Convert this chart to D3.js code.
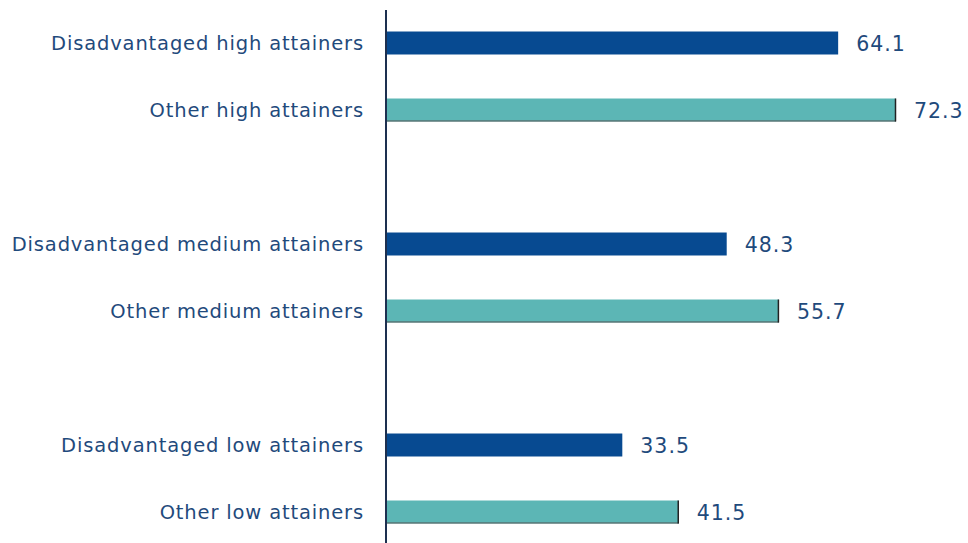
<!DOCTYPE html>
<html><head><meta charset="utf-8">
<script src="https://cdn.jsdelivr.net/npm/d3@7"></script>
<style>body{margin:0;background:#fff;} text{font-family:"DejaVu Sans",sans-serif;}</style>
</head><body><svg id="c" width="968" height="543"></svg>
<script>
const categories = ["Disadvantaged high attainers","Other high attainers","","Disadvantaged medium attainers","Other medium attainers","","Disadvantaged low attainers","Other low attainers"];
const values = [64.1,72.3,null,48.3,55.7,null,33.5,41.5];
const groupType = ["dis","oth",null,"dis","oth",null,"dis","oth"];
const colors = {dis:"#074a91", oth:"#5cb6b5"};
const textColor = "#1f4a7c";

const svg = d3.select("#c");
const x = d3.scaleLinear().domain([0,72.3]).range([386,896]);
const y = d3.scaleBand().domain(d3.range(categories.length)).range([9.5,545.5]).paddingInner(0.657).paddingOuter(0.3285);

const data = categories.map((c,i)=>({c, v:values[i], t:groupType[i], i})).filter(d=>d.v!==null);

svg.selectAll("rect.bar").data(data).join("rect").attr("class","bar")
  .attr("x", x(0)).attr("y", d=>y(d.i)).attr("width", d=>x(d.v)-x(0)).attr("height", y.bandwidth())
  .attr("fill", d=>colors[d.t]);
svg.selectAll("line.bot").data(data.filter(d=>d.t==="oth")).join("line").attr("class","bot")
  .attr("x1", x(0)).attr("x2", d=>x(d.v)).attr("y1", d=>y(d.i)+y.bandwidth()-0.5).attr("y2", d=>y(d.i)+y.bandwidth()-0.5)
  .attr("stroke","#555").attr("stroke-width",1);
svg.selectAll("line.rt").data(data.filter(d=>d.t==="oth")).join("line").attr("class","rt")
  .attr("x1", d=>x(d.v)-0.5).attr("x2", d=>x(d.v)-0.5).attr("y1", d=>y(d.i)).attr("y2", d=>y(d.i)+y.bandwidth())
  .attr("stroke","#222").attr("stroke-width",1.5);

svg.selectAll("text.cat").data(data).join("text").attr("class","cat")
  .attr("x", 364).attr("y", d=>y(d.i)+y.bandwidth()/2).attr("dy","0.36em")
  .attr("text-anchor","end").attr("font-size",19.5).attr("letter-spacing","0.85px").attr("fill",textColor).text(d=>d.c);

svg.selectAll("text.val").data(data).join("text").attr("class","val")
  .attr("x", d=>x(d.v)+18).attr("y", d=>y(d.i)+y.bandwidth()/2).attr("dy","0.37em")
  .attr("font-size",20.5).attr("letter-spacing","1px").attr("fill",textColor).text(d=>d.v.toFixed(1));

svg.append("line").attr("x1",x(0)).attr("x2",x(0)).attr("y1",10).attr("y2",543)
  .attr("stroke","#1d3050").attr("stroke-width",2);
</script></body></html>
